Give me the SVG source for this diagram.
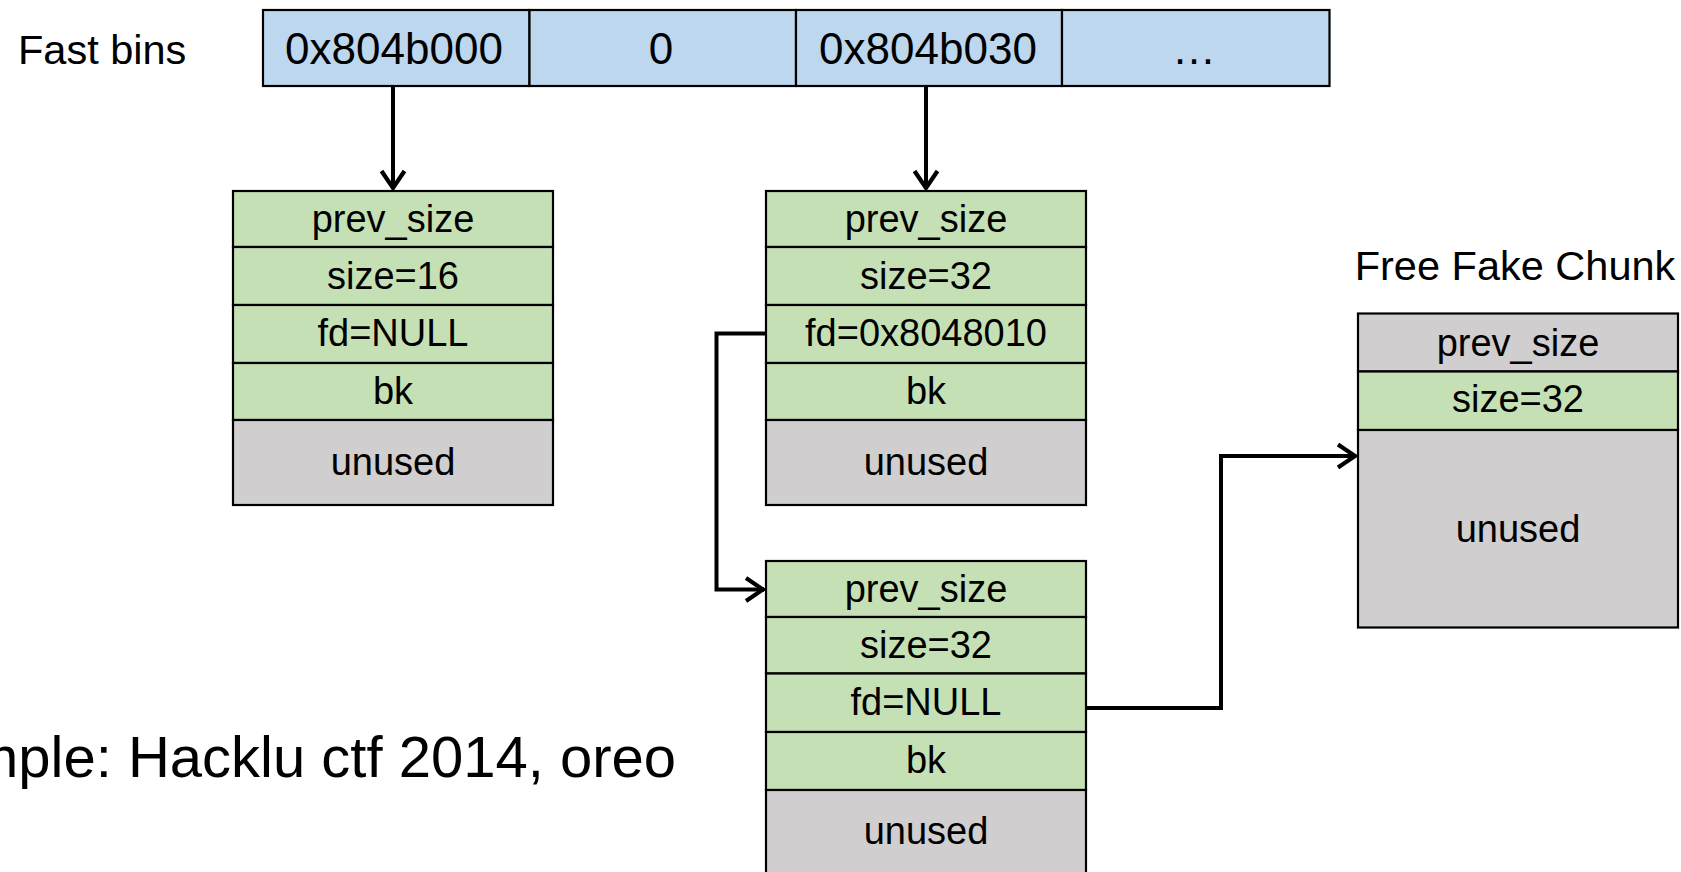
<svg xmlns="http://www.w3.org/2000/svg" width="1681" height="872" viewBox="0 0 1681 872">
<style>
  .cell{stroke:#000;stroke-width:2.2}
  .blue{fill:#BDD7EE}
  .green{fill:#C5E0B4}
  .gray{fill:#D0CECE}
  text{font-family:"Liberation Sans",Arial,sans-serif;fill:#000}
  .bt{font-size:44px;text-anchor:middle}
  .ct{font-size:38px;text-anchor:middle}
  .hd{font-size:41.5px}
  .big{font-size:58px}
  .conn{fill:none;stroke:#000;stroke-width:4}
</style>
<defs>
  <marker id="arr" markerUnits="userSpaceOnUse" viewBox="0 0 24 28" markerWidth="24" markerHeight="28" refX="21" refY="14" orient="auto">
    <path d="M3,2.5 L20,14 L3,25.5" fill="none" stroke="#000" stroke-width="4.2"/>
  </marker>
</defs>
<rect width="1681" height="872" fill="#fff"/>

<g id="fastbins-label"><text class="hd" x="18" y="64">Fast bins</text></g>

<g id="fastbins">
  <rect class="cell blue" x="263" y="10" width="266.5" height="76"/>
  <rect class="cell blue" x="529.5" y="10" width="266.5" height="76"/>
  <rect class="cell blue" x="796" y="10" width="266" height="76"/>
  <rect class="cell blue" x="1062" y="10" width="267.5" height="76"/>
  <text class="bt" x="394" y="64">0x804b000</text>
  <text class="bt" x="661" y="64">0</text>
  <text class="bt" x="928" y="64">0x804b030</text>
  <text class="bt" x="1194" y="64">…</text>
</g>

<g id="chunk1">
  <rect class="cell green" x="233" y="191" width="320" height="56"/>
  <rect class="cell green" x="233" y="247" width="320" height="58"/>
  <rect class="cell green" x="233" y="305" width="320" height="58"/>
  <rect class="cell green" x="233" y="363" width="320" height="57"/>
  <rect class="cell gray" x="233" y="420" width="320" height="85"/>
  <text class="ct" x="393" y="232">prev_size</text>
  <text class="ct" x="393" y="289">size=16</text>
  <text class="ct" x="393" y="346">fd=NULL</text>
  <text class="ct" x="393" y="404">bk</text>
  <text class="ct" x="393" y="475">unused</text>
</g>

<g id="chunk2">
  <rect class="cell green" x="766" y="191" width="320" height="56"/>
  <rect class="cell green" x="766" y="247" width="320" height="58"/>
  <rect class="cell green" x="766" y="305" width="320" height="58"/>
  <rect class="cell green" x="766" y="363" width="320" height="57"/>
  <rect class="cell gray" x="766" y="420" width="320" height="85"/>
  <text class="ct" x="926" y="232">prev_size</text>
  <text class="ct" x="926" y="289">size=32</text>
  <text class="ct" x="926" y="346">fd=0x8048010</text>
  <text class="ct" x="926" y="404">bk</text>
  <text class="ct" x="926" y="475">unused</text>
</g>

<g id="chunk3">
  <rect class="cell green" x="766" y="561" width="320" height="56"/>
  <rect class="cell green" x="766" y="617" width="320" height="56.5"/>
  <rect class="cell green" x="766" y="673.5" width="320" height="58.5"/>
  <rect class="cell green" x="766" y="732" width="320" height="58"/>
  <rect class="cell gray" x="766" y="790" width="320" height="86"/>
  <text class="ct" x="926" y="602">prev_size</text>
  <text class="ct" x="926" y="658">size=32</text>
  <text class="ct" x="926" y="715">fd=NULL</text>
  <text class="ct" x="926" y="773">bk</text>
  <text class="ct" x="926" y="844">unused</text>
</g>

<g id="fake-chunk-label"><text class="hd" x="1515" y="280" text-anchor="middle">Free Fake Chunk</text></g>

<g id="fake-chunk">
  <rect class="cell gray" x="1358" y="313.5" width="320" height="58"/>
  <rect class="cell green" x="1358" y="371.5" width="320" height="58.5"/>
  <rect class="cell gray" x="1358" y="430" width="320" height="197.5"/>
  <text class="ct" x="1518" y="356">prev_size</text>
  <text class="ct" x="1518" y="412">size=32</text>
  <text class="ct" x="1518" y="542">unused</text>
</g>

<g id="example-label"><text class="big" x="-30" y="777">mple: Hacklu ctf 2014, oreo</text></g>

<g id="connectors">
  <path class="conn" d="M393,86 V189" marker-end="url(#arr)"/>
  <path class="conn" d="M926,86 V189" marker-end="url(#arr)"/>
  <path class="conn" d="M766,333.5 H716.5 V589.5 H764" marker-end="url(#arr)"/>
  <path class="conn" d="M1086,708 H1221 V456 H1356" marker-end="url(#arr)"/>
</g>
</svg>
